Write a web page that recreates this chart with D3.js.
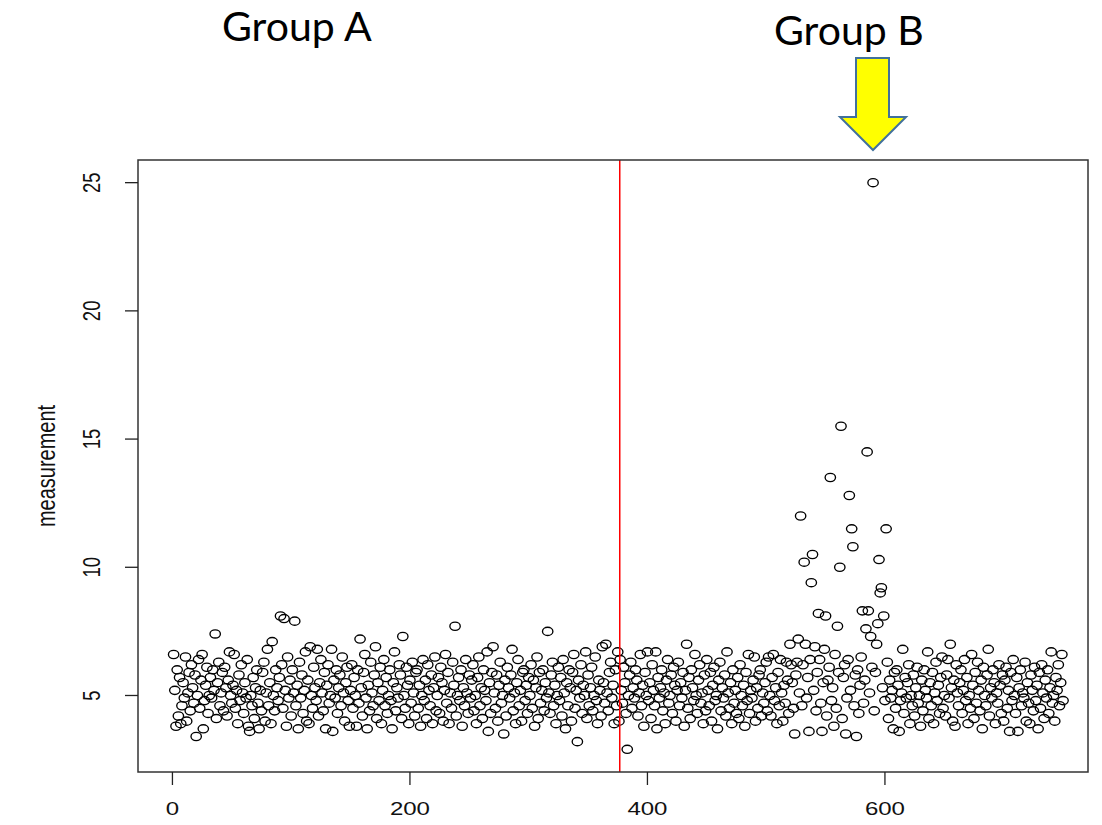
<!DOCTYPE html>
<html>
<head>
<meta charset="utf-8">
<script src="https://cdn.jsdelivr.net/npm/d3@7"></script>
<style>
  body { margin: 0; background: #fff; }
  svg { display: block; }
</style>
</head>
<body>
<div class="plot1"></div>
<script>
var groupA = [
  6.6, 5.2, 3.8, 6.0, 4.2, 5.7, 3.9, 4.6, 5.5, 4.9, 6.5, 4.0, 5.1, 5.9, 4.4, 6.2, 5.3, 4.7, 5.8, 3.4, 5.0, 6.4, 4.5, 5.6, 6.6,
  3.7, 4.8, 5.4, 6.1, 4.3, 5.0, 5.7, 4.9, 6.0, 5.2, 7.4, 4.1, 5.5, 6.3, 4.6, 5.1, 5.9, 4.4, 6.1, 5.3, 4.2, 5.6, 6.7, 5.0, 4.7,
  5.4, 6.6, 4.5, 5.2, 3.9, 5.8, 4.8, 6.2, 5.1, 4.3, 5.5, 4.9, 6.4, 3.8, 3.6, 5.0, 4.6, 5.7, 4.1, 5.3, 6.0, 4.7, 3.7, 5.2, 4.4,
  5.9, 6.3, 4.0, 5.1, 6.8, 4.6, 5.5, 3.9, 7.1, 5.0, 4.4, 6.0, 5.3, 4.8, 5.7, 8.1, 6.2, 4.5, 8.0, 5.2, 3.8, 6.5, 4.9, 5.6, 4.2,
  6.0, 5.1, 7.9, 4.6, 5.4, 3.7, 6.3, 4.9, 5.8, 4.3, 5.2, 6.7, 4.0, 5.6, 3.9, 6.9, 5.0, 4.5, 6.1, 5.3, 4.8, 6.8, 4.2, 5.5, 6.4,
  5.1, 4.4, 5.9, 3.7, 5.4, 6.2, 4.7, 5.0, 6.8, 3.6, 5.6, 4.9, 6.0, 4.3, 5.3, 5.8, 4.6, 6.5, 5.1, 4.0, 5.5, 6.1, 4.8, 3.8, 5.2,
  6.2, 4.5, 5.7, 5.0, 3.8, 6.0, 4.7, 7.2, 5.3, 4.2, 5.9, 6.6, 4.9, 3.7, 5.4, 4.4, 6.3, 5.1, 4.6, 5.8, 6.9, 4.1, 5.5, 4.8, 6.1,
  3.9, 5.2, 6.4, 4.6, 5.7, 4.3, 5.0, 6.0, 4.8, 3.7, 5.5, 6.7, 4.4, 5.3, 4.9, 6.2, 5.8, 4.1, 7.3, 5.0, 4.5, 6.1, 5.4, 3.9, 5.6,
  4.7, 6.3, 5.1, 4.2, 5.9, 6.0, 4.5, 5.4, 3.8, 5.0, 6.4, 4.8, 5.6, 4.1, 6.2, 5.2, 4.6, 5.8, 3.9, 5.3, 6.5, 4.4, 5.0, 5.7, 4.3,
  6.1, 5.5, 4.0, 5.2, 6.6, 4.7, 5.9, 3.9, 5.1, 4.5, 6.3, 5.4, 7.7, 4.2, 5.0, 5.7, 4.8, 6.0, 3.8, 5.3, 4.6, 6.4, 5.1, 4.3, 5.8,
  4.9, 5.6, 6.2, 4.4, 5.0, 3.9, 5.7, 6.5, 4.6, 5.3, 4.1, 6.0, 5.2, 4.8, 6.7, 3.6, 5.5, 4.3, 5.9, 6.9, 5.1, 4.5, 5.8, 4.0, 5.4,
  6.3, 4.7, 5.0, 3.5, 5.6, 4.2, 6.1, 5.3, 4.9, 5.8, 6.8, 4.4, 5.1, 3.9, 5.5, 6.4, 4.6, 5.2, 4.0, 5.9, 6.0, 4.8, 5.4, 4.3, 5.7,
  5.0, 6.2, 4.5, 5.6, 3.8, 5.3, 6.5, 4.1, 5.9, 4.7, 5.2, 6.0, 4.4, 5.5, 4.9, 7.5, 5.1, 4.3, 5.8, 6.3, 4.6, 5.4, 3.9, 5.0, 6.1,
  4.8, 5.7, 4.2, 6.4, 5.1, 3.7, 5.5, 4.6, 6.0, 5.3, 4.0, 5.9, 6.6, 4.5, 5.2, 3.2, 5.6, 4.9, 6.2, 4.3, 5.4, 5.0, 6.7, 4.1, 5.8,
  4.6, 5.3, 6.1, 4.4, 5.0, 6.5, 4.8, 3.9, 5.6, 5.2, 4.2, 6.9, 5.5, 4.7, 7.0, 5.1, 4.4, 5.9, 6.3, 4.9, 5.4, 3.9, 6.0, 4.6, 6.7
];
var groupB = [
  4.0, 6.4, 5.2, 4.7, 6.1, 5.5, 4.3, 2.9, 5.0, 5.8, 6.3, 4.5, 5.3, 4.9, 6.0, 5.6, 4.2, 5.1, 6.6, 4.6, 5.4, 3.8, 5.9, 5.0, 6.7,
  4.8, 5.5, 4.1, 6.2, 5.2, 4.6, 6.7, 3.7, 5.7, 4.9, 5.3, 6.0, 4.4, 5.1, 3.9, 5.6, 6.4, 4.7, 5.0, 5.8, 4.3, 6.1, 5.4, 4.0, 5.2,
  6.3, 4.6, 5.5, 4.9, 5.9, 3.8, 5.2, 7.0, 4.5, 5.7, 4.1, 6.0, 5.3, 4.8, 6.6, 5.0, 4.3, 5.6, 6.2, 4.7, 5.1, 3.9, 5.8, 4.4, 6.4,
  5.2, 4.6, 5.9, 4.0, 5.4, 6.1, 4.8, 5.0, 3.7, 5.6, 6.3, 4.4, 5.3, 4.9, 5.8, 4.2, 6.7, 5.1, 4.5, 5.5, 3.9, 6.0, 4.7, 5.2, 4.3,
  5.7, 4.1, 6.2, 5.0, 4.6, 5.4, 3.8, 5.9, 4.8, 6.6, 4.3, 5.2, 4.9, 5.6, 6.5, 4.0, 5.3, 4.5, 5.8, 6.0, 4.2, 5.1, 4.7, 5.5, 6.3,
  4.4, 6.5, 5.0, 4.2, 5.7, 6.6, 4.8, 5.3, 3.9, 5.9, 4.6, 6.4, 5.1, 4.0, 5.4, 4.7, 6.3, 5.6, 4.3, 7.0, 6.2, 5.5, 4.5, 3.5, 5.8,
  6.3, 7.2, 5.1, 12.0, 4.6, 6.2, 10.2, 7.0, 4.9, 5.7, 3.6, 6.4, 9.4, 10.5, 5.2, 6.9, 4.4, 5.9, 8.2, 6.4, 4.7, 3.6, 5.5, 6.8, 8.1,
  4.2, 5.6, 6.1, 13.5, 4.8, 5.3, 3.8, 6.6, 4.5, 7.7, 5.9, 10.0, 15.5, 4.1, 5.7, 6.2, 3.5, 4.9, 6.4, 12.8, 5.2, 11.5, 10.8, 4.6, 5.8,
  3.4, 6.0, 4.3, 5.4, 6.5, 8.3, 4.7, 5.6, 7.6, 14.5, 8.3, 5.1, 7.3, 6.1, 25.0, 4.4, 5.9, 7.0, 7.8, 10.3, 9.0, 9.2, 5.3, 8.1, 4.8,
  11.5, 6.3, 4.1, 5.6, 4.9, 5.2, 3.7, 5.9, 4.5, 6.0, 5.4, 3.6, 4.8, 5.1, 6.8, 4.3, 5.7, 4.9, 5.5, 6.2, 3.9, 5.0, 4.6, 5.8, 4.2,
  5.3, 6.1, 4.7, 5.0, 3.8, 5.6, 4.4, 6.0, 5.2, 4.9, 6.7, 4.1, 5.5, 4.6, 5.9, 3.9, 5.1, 6.3, 4.8, 5.4, 4.3, 5.7, 6.5, 4.5, 5.0,
  4.2, 5.8, 6.4, 4.9, 7.0, 5.3, 4.0, 5.6, 3.8, 6.2, 5.1, 4.6, 5.5, 6.0, 4.3, 5.2, 6.4, 4.8, 5.7, 3.9, 5.0, 4.5, 6.6, 5.4, 4.1,
  5.9, 4.7, 6.3, 5.2, 4.4, 5.6, 3.7, 6.1, 5.0, 4.6, 5.8, 6.8, 4.2, 5.3, 4.9, 6.0, 5.5, 3.9, 5.1, 4.7, 6.2, 5.4, 4.3, 5.8, 4.0,
  5.6, 6.1, 4.5, 5.2, 3.6, 5.9, 4.8, 6.4, 5.0, 4.3, 5.7, 3.6, 5.3, 6.0, 4.6, 5.1, 4.9, 6.3, 4.0, 5.5, 4.7, 3.9, 5.8, 5.2, 4.4,
  6.1, 4.8, 5.4, 3.7, 5.9, 4.5, 6.2, 5.1, 4.1, 5.6, 4.9, 6.0, 4.3, 5.3, 6.7, 4.7, 5.0, 4.0, 5.7, 5.2, 6.2, 4.6, 5.5, 6.6, 4.8
];
var xTicks = [0, 200, 400, 600];
var yTicks = [5, 10, 15, 20, 25];
var splitAt = 375;
var titles = [{text: "Group A", x: 222, y: 41}, {text: "Group B", x: 774, y: 45}];

var values = groupA.concat(groupB);
var pts = values.map(function(v, i) { return {x: i + 1, y: v}; });

var W = 1102, H = 825;
var box = {left: 138, right: 1088, top: 160, bottom: 772};

var svg = d3.select(".plot1").append("svg")
  .attr("width", W)
  .attr("height", H);

// R style 4% padding on y, x padding set to match the ticks
var n = values.length;
var x = d3.scaleLinear()
  .domain([-29, n + 21])
  .range([box.left, box.right]);
var ymin = d3.min(values), ymax = d3.max(values);
var pad = (ymax - ymin) * 0.04;
var y = d3.scaleLinear()
  .domain([ymin - pad, ymax + pad])
  .range([box.bottom, box.top]);

var sx = 1.3; // picture is stretched sideways

// points
svg.append("g").selectAll("ellipse")
  .data(pts)
  .enter()
  .append("ellipse")
  .attr("cx", function(d) { return x(d.x); })
  .attr("cy", function(d) { return y(d.y); })
  .attr("rx", 5.2)
  .attr("ry", 4.1)
  .style("fill", "none")
  .style("stroke", "#000")
  .style("stroke-width", 1.35);

// split line
svg.append("line")
  .attr("x1", x(splitAt) + 2).attr("x2", x(splitAt) + 2)
  .attr("y1", box.top).attr("y2", box.bottom)
  .style("stroke", "#ff0000")
  .style("stroke-width", 1.5);

// box
svg.append("rect")
  .attr("x", box.left).attr("y", box.top)
  .attr("width", box.right - box.left).attr("height", box.bottom - box.top)
  .style("fill", "none")
  .style("stroke", "#333")
  .style("stroke-width", 1.5);

// x axis
var xa = svg.append("g");
xa.selectAll("line").data(xTicks).enter().append("line")
  .attr("x1", function(d) { return x(d); }).attr("x2", function(d) { return x(d); })
  .attr("y1", box.bottom).attr("y2", box.bottom + 13)
  .style("stroke", "#222").style("stroke-width", 1.3);
xa.selectAll("text").data(xTicks).enter().append("text")
  .attr("transform", function(d) { return "translate(" + x(d) + "," + 815 + ") scale(" + sx + ",1)"; })
  .attr("text-anchor", "middle")
  .style("font-family", "'Liberation Sans', Arial, sans-serif")
  .style("font-size", "18.5px")
  .style("fill", "#111")
  .text(function(d) { return d; });

// y axis
var ya = svg.append("g");
ya.selectAll("line").data(yTicks).enter().append("line")
  .attr("x1", box.left - 13).attr("x2", box.left)
  .attr("y1", function(d) { return y(d); }).attr("y2", function(d) { return y(d); })
  .style("stroke", "#222").style("stroke-width", 1.3);
ya.selectAll("text").data(yTicks).enter().append("text")
  .attr("transform", function(d) { return "translate(" + 100 + "," + y(d) + ") scale(" + sx + ",1) rotate(-90)"; })
  .attr("text-anchor", "middle")
  .style("font-family", "'Liberation Sans', Arial, sans-serif")
  .style("font-size", "18.5px")
  .style("fill", "#111")
  .text(function(d) { return d; });

svg.append("text")
  .attr("transform", "translate(55," + (box.top + box.bottom) / 2 + ") scale(" + sx + ",1) rotate(-90)")
  .attr("text-anchor", "middle")
  .style("font-family", "'Liberation Sans', Arial, sans-serif")
  .style("font-size", "20px")
  .style("fill", "#111")
  .text("measurement");

// titles
svg.selectAll(".title").data(titles).enter().append("text")
  .attr("class", "title")
  .attr("x", function(d) { return d.x; })
  .attr("y", function(d) { return d.y; })
  .style("font-family", "Lato, 'Open Sans', sans-serif")
  .style("font-size", "41px")
  .style("fill", "#000")
  .text(function(d) { return d.text; });

// arrow pointing at group B
var arrow = [[856, 58], [889, 58], [889, 117], [906, 117], [873, 150], [840, 117], [856, 117]];
svg.append("path")
  .attr("d", d3.line()(arrow) + "Z")
  .style("fill", "#ffff00")
  .style("stroke", "#41719c")
  .style("stroke-width", 2)
  .style("stroke-linejoin", "miter");
</script>
</body>
</html>
